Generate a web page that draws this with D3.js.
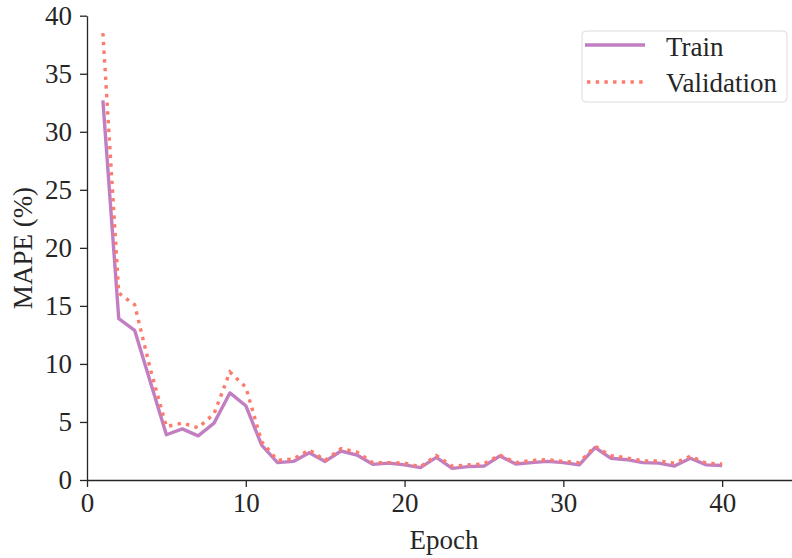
<!DOCTYPE html>
<html><head><meta charset="utf-8">
<script src="https://cdn.jsdelivr.net/npm/d3@7"></script>
<style>body{margin:0;background:#fff}svg{display:block}</style>
</head><body>
<svg id="c" width="792" height="558"></svg>
<script>
const epochs = d3.range(1, 41);
const train = [32.7,13.9,12.9,8.4,3.9,4.4,3.8,4.9,7.5,6.4,3.0,1.5,1.6,2.35,1.6,2.5,2.15,1.35,1.45,1.3,1.06,1.95,1.0,1.15,1.2,2.07,1.38,1.5,1.6,1.5,1.3,2.8,1.87,1.75,1.5,1.45,1.2,1.87,1.3,1.25];
const valid = [38.5,16.1,15.1,9.5,4.6,4.9,4.5,5.7,9.3,8.0,3.3,1.7,1.8,2.6,1.7,2.7,2.4,1.5,1.5,1.45,1.15,2.1,1.2,1.3,1.4,2.15,1.5,1.68,1.75,1.6,1.5,2.9,2.1,1.9,1.65,1.65,1.45,2.05,1.45,1.38];
const xTicks = [0,10,20,30,40];
const yTicks = [0,5,10,15,20,25,30,35,40];

const svg = d3.select("#c");
const font = "'Liberation Serif','Times New Roman',serif";
const fs = 27;
const x = d3.scaleLinear().domain([0, 44.4]).range([87, 792]);
const y = d3.scaleLinear().domain([0, 40]).range([480, 15.7]);

const gx = svg.append("g").attr("transform","translate(0,480)")
  .call(d3.axisBottom(x).tickValues(xTicks).tickSize(7).tickPadding(6).tickSizeOuter(0));
const gy = svg.append("g").attr("transform","translate(87,0)")
  .call(d3.axisLeft(y).tickValues(yTicks).tickSize(7).tickPadding(8).tickSizeOuter(0));
[gx, gy].forEach(g => {
  g.selectAll("path.domain").attr("stroke","#262626").attr("stroke-width",1.3);
  g.selectAll(".tick line").attr("stroke","#262626").attr("stroke-width",1.3);
  g.selectAll(".tick text").attr("font-family",font).attr("font-size",fs).attr("fill","#262626");
});

const line = d3.line().x((d,i)=>x(epochs[i])).y(d=>y(d));
svg.append("path").datum(train).attr("d",line).attr("fill","none")
  .attr("stroke","#c17fc2").attr("stroke-width",3.4).attr("stroke-linejoin","round");
svg.append("path").datum(valid).attr("d",line).attr("fill","none")
  .attr("stroke","#fb7b6c").attr("stroke-width",3.4).attr("stroke-dasharray","3.4,5.3");

svg.append("text").attr("x",444).attr("y",549).attr("text-anchor","middle")
  .attr("font-family",font).attr("font-size",fs).attr("fill","#262626").text("Epoch");
svg.append("text").attr("transform","translate(32,248) rotate(-90)").attr("text-anchor","middle")
  .attr("font-family",font).attr("font-size",fs).attr("fill","#262626").text("MAPE (%)");

// legend
const lg = svg.append("g");
lg.append("rect").attr("x",582).attr("y",31).attr("width",205).attr("height",71).attr("rx",4)
  .attr("fill","#fff").attr("fill-opacity",0.8).attr("stroke","#dcdcdc").attr("stroke-width",1);
lg.append("line").attr("x1",585).attr("x2",645).attr("y1",45).attr("y2",45)
  .attr("stroke","#c17fc2").attr("stroke-width",3.4);
lg.append("line").attr("x1",587).attr("x2",645).attr("y1",82).attr("y2",82)
  .attr("stroke","#fb7b6c").attr("stroke-width",3.4).attr("stroke-dasharray","3.4,5.3");
lg.append("text").attr("x",666).attr("y",55.5).attr("font-family",font).attr("font-size",fs)
  .attr("fill","#262626").text("Train");
lg.append("text").attr("x",666).attr("y",91.5).attr("font-family",font).attr("font-size",fs)
  .attr("fill","#262626").text("Validation");
</script>
</body></html>
